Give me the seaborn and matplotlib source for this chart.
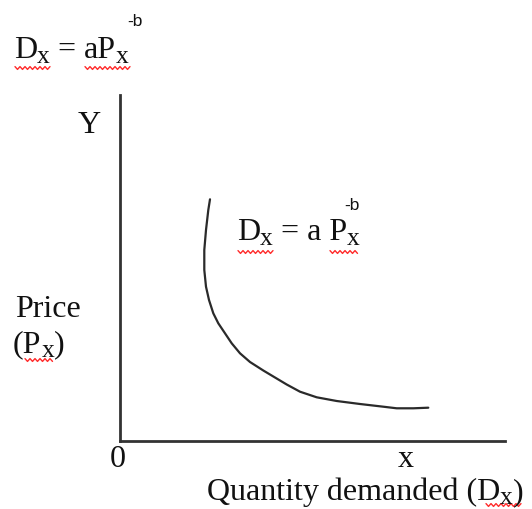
import numpy as np
import matplotlib
matplotlib.use("Agg")
import matplotlib.pyplot as plt
from matplotlib.lines import Line2D
import seaborn as sns

# Demand curve D = a P^-b, traced as (quantity, price) pairs
quantity = [9.05, 8.88, 8.65, 8.48, 8.48, 8.65, 8.95, 9.38, 9.88, 10.55,
            11.22, 12.05, 13.05, 14.38, 15.55, 16.72, 18.05, 19.72, 21.72,
            24.05, 26.38, 27.72, 29.38, 30.88]
price = [24.12, 23.05, 21.05, 19.05, 17.05, 15.38, 14.05, 12.72, 11.72,
         10.72, 9.72, 8.72, 7.85, 7.0, 6.3, 5.6, 4.88, 4.32, 3.95, 3.65,
         3.38, 3.22, 3.22, 3.28]

x_max, y_max = 38.55, 34.55

sns.set_style("white")
plt.rcParams["font.family"] = ["Liberation Serif", "DejaVu Serif"]

W, H = 532, 509
fig = plt.figure(figsize=(W / 100, H / 100), dpi=100)
ax = fig.add_axes([119.5 / W, (H - 440.5) / H, 385.5 / W, 345.5 / H])

sns.lineplot(x=quantity, y=price, sort=False, ax=ax, color="#2a2a2a",
             linewidth=1.6, estimator=None, solid_joinstyle="round",
             solid_capstyle="round")
ax.set_xlim(0, x_max)
ax.set_ylim(0, y_max)
ax.set_xticks([])
ax.set_yticks([])
sns.despine(ax=ax)
for side in ("left", "bottom"):
    ax.spines[side].set_linewidth(2)
    ax.spines[side].set_color("#333333")

renderer = fig.canvas.get_renderer()
BASE = 23
SUB = 0.8


def rich(x, y, pieces, size=BASE):
    """Lay out (text, scale, drop) pieces left to right from a pixel baseline."""
    for s, scale, drop in pieces:
        t = fig.text(x / W, 1 - (y + drop) / H, s, fontsize=size * scale,
                     va="baseline", ha="left", color="#111111")
        x += t.get_window_extent(renderer).width


def sup(x, y, s):
    fig.text(x / W, 1 - y / H, s, fontsize=12.5, va="baseline", ha="left",
             color="#111111", family=["Liberation Sans", "DejaVu Sans"])


def squiggle(x0, x1, y):
    xs = np.arange(x0, x1 + 0.01, 2.5)
    ys = y + np.where(np.arange(len(xs)) % 2 == 0, -1.4, 1.4)
    fig.add_artist(Line2D(xs / W, 1 - ys / H, transform=fig.transFigure,
                          color="#ff2a2a", linewidth=1.0))


# formula in the top-left corner
rich(14, 58, [("D", 1, 0), ("x", SUB, 5), (" = ", 1, 0), ("aP", 1, 0),
              ("x", SUB, 5)])
sup(127, 26, "-b")
squiggle(15, 50, 68)
squiggle(85, 130, 68)

# formula beside the curve
rich(237, 240, [("D", 1, 0), ("x", SUB, 5), (" = a P", 1, 0), ("x", SUB, 5)])
sup(344, 210, "-b")
squiggle(238, 275, 252)
squiggle(330, 358, 252)

# axis labels
rich(78, 133, [("Y", 1, 0)])
rich(15, 317, [("Price", 1, 0)])
rich(13, 352, [("(P", 1, 0), ("x", SUB, 5), (")", 1, 0)])
squiggle(25, 53, 360)
rich(110, 467, [("0", 1, 0)])
rich(398, 467, [("x", 1, 0)])
rich(207, 500, [("Quantity demanded (D", 1, 0), ("x", SUB, 3.5), (")", 1, 0)],
     size=23)
squiggle(486, 522, 505)

fig.savefig("out.png", dpi=100)
